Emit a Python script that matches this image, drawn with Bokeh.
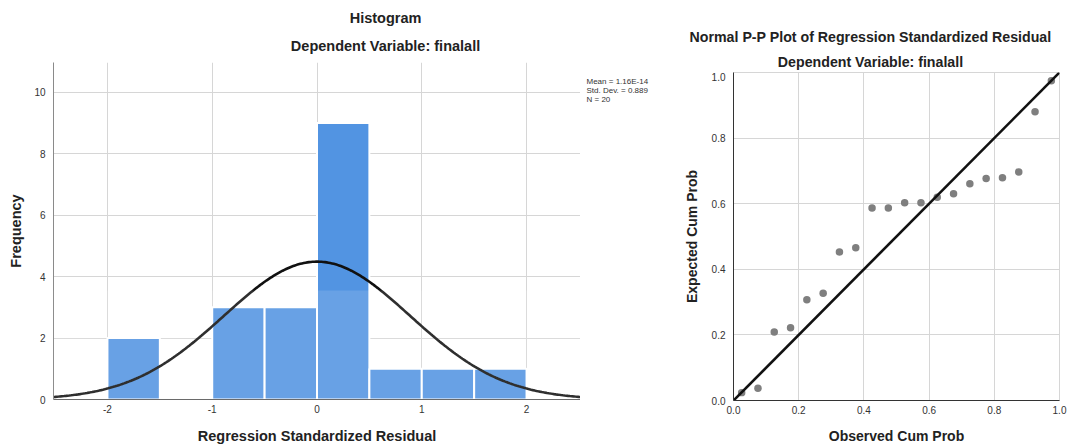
import numpy as np
from bokeh.plotting import figure
from bokeh.layouts import row, column
from bokeh.models import FixedTicker, BoxAnnotation, Range1d, PrintfTickFormatter
from bokeh.core.properties import value
from bokeh.embed import file_html
from bokeh.resources import INLINE

# ---------------- data ----------------
bin_left = [-2.0, -1.5, -1.0, -0.5, 0.0, 0.5, 1.0, 1.5]
bin_right = [-1.5, -1.0, -0.5, 0.0, 0.5, 1.0, 1.5, 2.0]
freq = [2, 0, 3, 3, 9, 1, 1, 1]
mean_val = 1.16e-14
std_val = 0.889
n_val = 20
bin_width = 0.5

hist_xticks = [-2, -1, 0, 1, 2]
hist_yticks = [0, 2, 4, 6, 8, 10]

observed_cum = [0.025, 0.075, 0.125, 0.175, 0.225, 0.275, 0.325, 0.375, 0.425, 0.475,
                0.525, 0.575, 0.625, 0.675, 0.725, 0.775, 0.825, 0.875, 0.925, 0.975]
expected_cum = [0.024, 0.037, 0.209, 0.222, 0.307, 0.327, 0.453, 0.466, 0.587, 0.587,
                0.603, 0.603, 0.620, 0.630, 0.661, 0.677, 0.679, 0.697, 0.880, 0.975]
pp_ticks = [0.0, 0.2, 0.4, 0.6, 0.8, 1.0]

hist_titles = ["Histogram", "Dependent Variable: finalall"]
pp_titles = ["Normal P-P Plot of Regression Standardized Residual", "Dependent Variable: finalall"]
legend_lines = ["Mean = %.2E" % mean_val, "Std. Dev. = %.3f" % std_val, "N = %d" % n_val]

FONT = "Liberation Sans"
TXT = "#222222"
GRID = "#d6d6d6"
H = 446
W1, WL, W2 = 580, 100, 388
TOP1, TOP2 = 62, 72


def style_axes(p, xticks, yticks, fmt, label_size):
    p.xaxis.ticker = FixedTicker(ticks=xticks)
    p.yaxis.ticker = FixedTicker(ticks=yticks)
    p.xgrid.ticker = FixedTicker(ticks=xticks)
    p.ygrid.ticker = FixedTicker(ticks=yticks)
    for ax in (p.xaxis, p.yaxis):
        ax.formatter = PrintfTickFormatter(format=fmt)
        ax.major_tick_line_color = None
        ax.minor_tick_line_color = None
        ax.major_tick_out = 0
        ax.major_tick_in = 0
        ax.minor_tick_out = 0
        ax.major_label_text_font = FONT
        ax.major_label_text_font_size = "10px"
        ax.major_label_text_color = "#333333"
        ax.axis_line_width = 1
        ax.axis_label_text_font = FONT
        ax.axis_label_text_font_size = label_size
        ax.axis_label_text_font_style = "bold"
        ax.axis_label_text_color = TXT
    p.xaxis.major_label_standoff = 5
    p.yaxis.major_label_standoff = 8
    p.grid.grid_line_color = GRID
    p.grid.grid_line_width = 1
    p.background_fill_color = "white"
    p.border_fill_color = "white"


def text_panel(width, height, x_range=None):
    t = figure(width=width, height=height, output_backend="svg", toolbar_location=None,
               title_location=None, x_axis_location=None, y_axis_location=None,
               x_range=x_range if x_range is not None else Range1d(0, width),
               y_range=Range1d(height, 0),
               min_border_left=0, min_border_right=0, min_border_top=0, min_border_bottom=0)
    t.grid.visible = False
    t.outline_line_color = None
    t.background_fill_color = "white"
    t.border_fill_color = "white"
    return t


def add_titles(t, titles, cx, ys, size):
    t.text(x=[cx] * len(titles), y=ys, text=titles, text_font=value(FONT), text_font_size=size,
           text_font_style="bold", text_align="center", text_baseline="middle", text_color=TXT)


# ---------------- histogram ----------------
xr = Range1d(-2.515, 2.515)
yr = (0, 10.97)

p1 = figure(width=W1, height=H - TOP1, output_backend="svg", toolbar_location=None,
            title_location=None, x_range=xr, y_range=Range1d(*yr),
            min_border_left=53, min_border_right=0, min_border_top=0, min_border_bottom=40)
p1.outline_line_color = None
style_axes(p1, hist_xticks, hist_yticks, "%d", "14.5px")
p1.yaxis.axis_line_color = "#8a8a8a"
p1.xaxis.axis_line_color = "#666666"
p1.xaxis.axis_label = "Regression Standardized Residual"
p1.yaxis.axis_label = "Frequency"
p1.xaxis.axis_label_standoff = 12
p1.yaxis.axis_label_standoff = 7

p1.quad(left=bin_left, right=bin_right, bottom=0, top=freq,
        fill_color="#5294e2", line_color="white", line_width=2)

xs = np.linspace(xr.start, xr.end, 300)
ys = n_val * bin_width * np.exp(-0.5 * ((xs - mean_val) / std_val) ** 2) / (std_val * np.sqrt(2 * np.pi))
p1.line(xs, ys, line_color="#111111", line_width=2.6)

p1.add_layout(BoxAnnotation(top=3.55, fill_color="white", fill_alpha=0.13, line_color=None))

t1 = text_panel(W1, TOP1, x_range=xr)
add_titles(t1, hist_titles, 0.654, [17, 45], "14.5px")

# ---------------- legend text panel ----------------
pl = text_panel(WL, H)
pl.text(x=[6, 6, 6], y=[81, 90, 99], text=legend_lines, text_font=value(FONT), text_font_size="8px",
        text_align="left", text_baseline="middle", text_color="#333333")

# ---------------- P-P plot ----------------
t2 = text_panel(W2, TOP2)
add_titles(t2, pp_titles, 190, [36, 61], "14.2px")

p2 = figure(width=W2, height=H - TOP2, output_backend="svg", toolbar_location=None,
            title_location=None, x_range=Range1d(0, 1), y_range=Range1d(0, 1),
            min_border_left=53, min_border_right=9, min_border_top=0, min_border_bottom=40)
p2.outline_line_color = GRID
style_axes(p2, pp_ticks, pp_ticks, "%.1f", "14px")
p2.xaxis.axis_line_color = "#333333"
p2.yaxis.axis_line_color = "#333333"
p2.xaxis.axis_label = "Observed Cum Prob"
p2.yaxis.axis_label = "Expected Cum Prob"
p2.xaxis.axis_label_standoff = 11
p2.yaxis.axis_label_standoff = 9

p2.scatter(observed_cum, expected_cum, size=7.5, fill_color="#7f7f7f", line_color=None)
p2.line([pp_ticks[0], pp_ticks[-1]], [pp_ticks[0], pp_ticks[-1]], line_color="#111111", line_width=2.6)

layout = row(column(t1, p1), pl, column(row(t2), p2))
open("out.html", "w").write(file_html(layout, INLINE))
